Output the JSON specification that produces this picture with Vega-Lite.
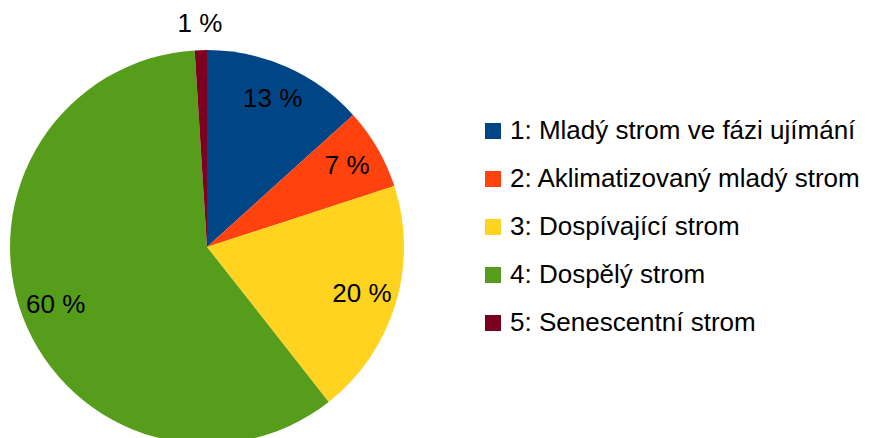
{
  "$schema": "https://vega.github.io/schema/vega-lite/v6.json",
  "width": 414,
  "height": 494,
  "padding": {"left": 0, "top": 0, "right": 457, "bottom": 0},
  "autosize": {"type": "none"},
  "background": "white",
  "config": {"view": {"stroke": null}, "font": "Liberation Sans"},
  "data": {
    "values": [
      {"id": 1, "kategorie": "1: Mladý strom ve fázi ujímání", "podil": 13.3, "popisek": "13 %"},
      {"id": 2, "kategorie": "2: Aklimatizovaný mladý strom", "podil": 6.7, "popisek": "7 %"},
      {"id": 3, "kategorie": "3: Dospívající strom", "podil": 19.4, "popisek": "20 %"},
      {"id": 4, "kategorie": "4: Dospělý strom", "podil": 59.6, "popisek": "60 %"},
      {"id": 5, "kategorie": "5: Senescentní strom", "podil": 1.0, "popisek": "1 %"}
    ]
  },
  "encoding": {
    "theta": {"field": "podil", "type": "quantitative", "stack": true},
    "order": {"field": "id", "type": "quantitative", "sort": "ascending"}
  },
  "layer": [
    {
      "mark": {"type": "arc", "outerRadius": 197},
      "encoding": {
        "color": {
          "field": "kategorie",
          "type": "nominal",
          "scale": {"range": ["#004586", "#ff420e", "#ffd320", "#579d1c", "#7e0021"]},
          "legend": {
            "title": null,
            "orient": "none",
            "legendX": 480,
            "legendY": 118,
            "symbolType": "square",
            "symbolSize": 256,
            "symbolStrokeWidth": 0,
            "labelFontSize": 26,
            "labelFont": "Liberation Sans",
            "labelColor": "#000000",
            "labelOffset": 4,
            "labelLimit": 400,
            "rowPadding": 22
          }
        }
      }
    },
    {
      "mark": {"type": "text", "radius": 162, "fontSize": 26, "font": "Liberation Sans", "color": "#000000"},
      "encoding": {
        "text": {"condition": {"test": "datum.id <= 4", "field": "popisek"}, "value": ""}
      }
    },
    {
      "mark": {"type": "text", "radius": 223, "fontSize": 26, "font": "Liberation Sans", "color": "#000000"},
      "encoding": {
        "text": {"condition": {"test": "datum.id == 5", "field": "popisek"}, "value": ""}
      }
    }
  ]
}
